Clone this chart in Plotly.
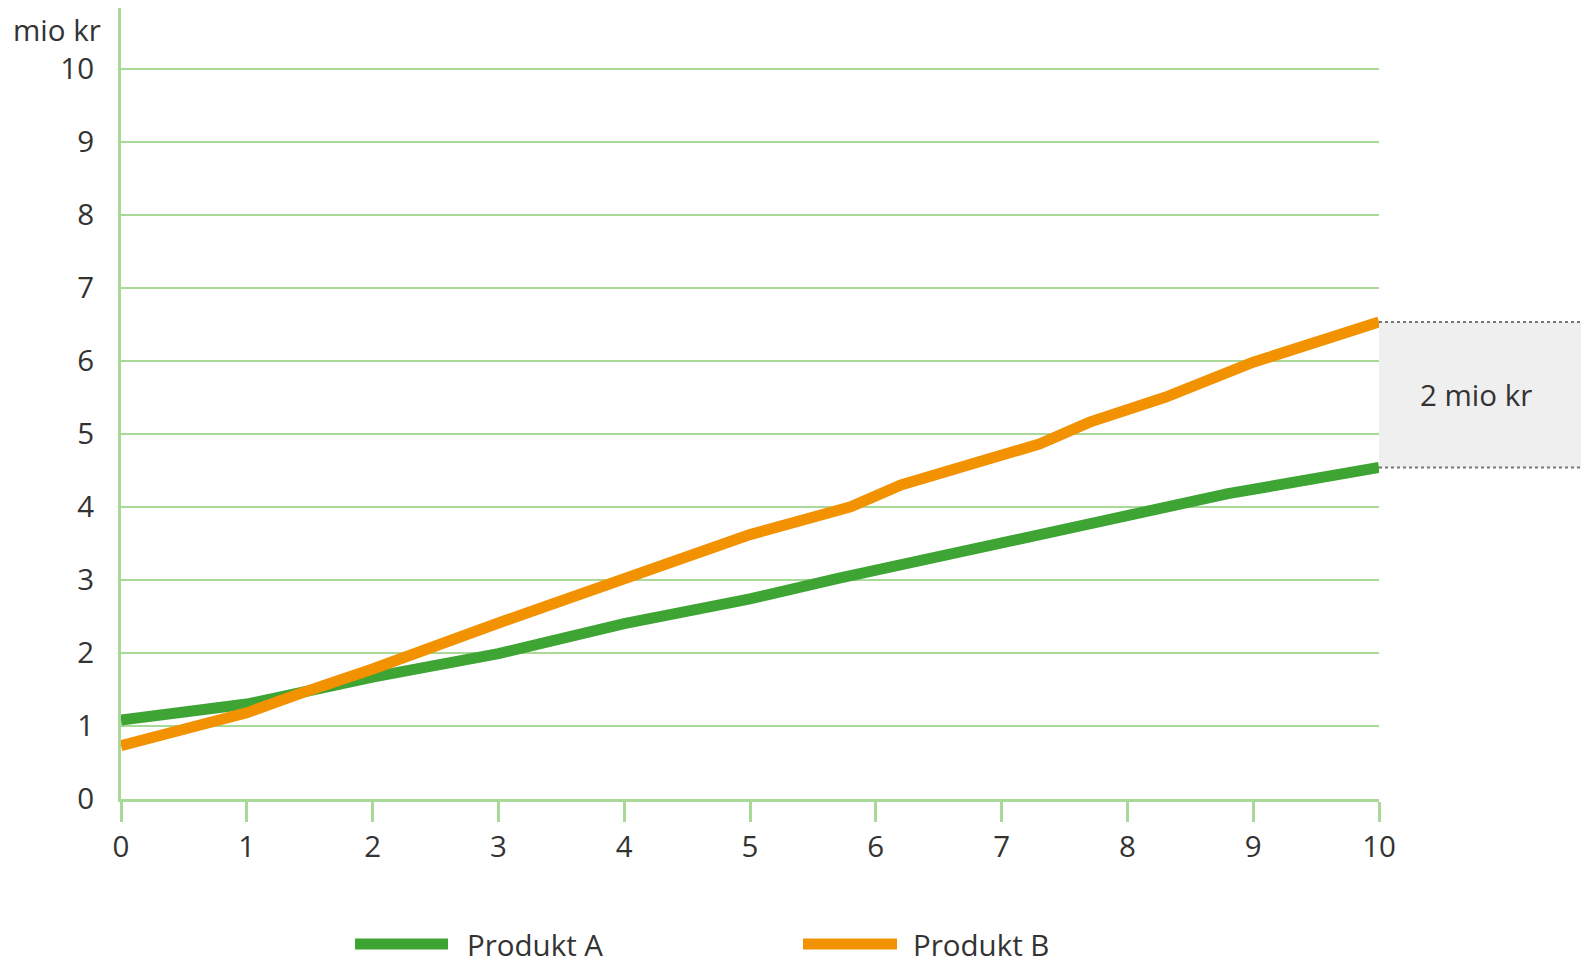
import plotly.graph_objects as go

# Data
series_names = ["Produkt A", "Produkt B"]
series_colors = ["#3ea535", "#f39200"]
x_a = [0, 1, 2, 3, 4, 5, 5.7, 7, 8.3, 8.8, 10]
y_a = [1.08, 1.30, 1.67, 1.99, 2.40, 2.74, 3.02, 3.50, 3.98, 4.18, 4.54]
x_b = [0, 1, 1.45, 2, 3, 4, 5, 5.8, 6.2, 7.3, 7.7, 8.3, 9, 10]
y_b = [0.73, 1.18, 1.46, 1.78, 2.41, 3.0, 3.62, 4.0, 4.3, 4.86, 5.16, 5.5, 5.98, 6.53]
x_ticks = list(range(0, 11))
y_ticks = list(range(0, 11))
y_unit = "mio kr"
diff_label = "2 mio kr"

# page has an 8px body margin, so the figure is 16px smaller than the window
W, H = 1573, 961
L, R, T, B = 113, 202, 0, 170
Y_MAX = 10.83
GRID = "#a9d899"
FONT = "Open Sans"
FS = 29.5
TXT = "#333333"

plot_w = W - L - R
plot_h = H - T - B

fig = go.Figure()
for xs, ys, name, col in [(x_a, y_a, series_names[0], series_colors[0]),
                          (x_b, y_b, series_names[1], series_colors[1])]:
    fig.add_trace(go.Scatter(x=xs, y=ys, mode="lines", name=name,
                             line=dict(color=col, width=11), showlegend=False))

fig.update_layout(
    width=W, height=H,
    margin=dict(l=L, r=R, t=T, b=B),
    plot_bgcolor="white", paper_bgcolor="white",
    font=dict(family=FONT, size=FS, color=TXT),
    xaxis=dict(range=[0, 10], tickvals=x_ticks, showgrid=False, zeroline=False,
               showline=True, linecolor=GRID, linewidth=3,
               ticks="outside", ticklen=20, tickwidth=3, tickcolor=GRID,
               tickfont=dict(size=FS, color=TXT), fixedrange=True),
    yaxis=dict(range=[0, Y_MAX], tickvals=y_ticks, showgrid=True, gridcolor=GRID,
               gridwidth=2, zeroline=False, showline=True, linecolor=GRID,
               linewidth=3, ticks="", ticklabelstandoff=18,
               tickfont=dict(size=FS, color=TXT), fixedrange=True),
)

# y-unit label
fig.add_annotation(text=y_unit, xref="paper", yref="paper",
                   x=(94 - L) / plot_w, y=1.0, borderpad=0,
                   xanchor="right", yanchor="top", showarrow=False,
                   font=dict(size=FS, color=TXT))

# difference box to the right of the plot
def ypaper(v):
    return v / Y_MAX
top_v, bot_v = y_b[-1], y_a[-1]
x_end = 1 + (W - (W - R)) / plot_w
fig.add_shape(type="rect", xref="paper", yref="paper", x0=1, x1=x_end,
              y0=ypaper(bot_v), y1=ypaper(top_v), fillcolor="#efefef",
              line=dict(width=0), layer="below")
for v in (top_v, bot_v):
    fig.add_shape(type="line", xref="paper", yref="paper", x0=1, x1=x_end,
                  y0=ypaper(v), y1=ypaper(v),
                  line=dict(color="#777777", width=2, dash="dot"))
fig.add_annotation(text=diff_label, xref="paper", yref="paper",
                   x=1 + 97 / plot_w, y=ypaper((top_v + bot_v) / 2),
                   xanchor="center", yanchor="middle",
                   showarrow=False, font=dict(size=FS, color=TXT))

# custom legend below the chart
leg_y = -(936 - (H - B)) / plot_h
leg_line_x = [(347, 440), (795, 889)]
leg_text_x = [458, 904]
for name, col, (lx0, lx1), tx in zip(series_names, series_colors, leg_line_x, leg_text_x):
    fig.add_shape(type="line", xref="paper", yref="paper",
                  x0=(lx0 - L) / plot_w, x1=(lx1 - L) / plot_w,
                  y0=leg_y, y1=leg_y, line=dict(color=col, width=11))
    fig.add_annotation(text=name, xref="paper", yref="paper",
                       x=(tx - L) / plot_w, y=leg_y, borderpad=0,
                       xanchor="left", yanchor="middle", showarrow=False,
                       font=dict(size=FS, color=TXT))

fig.write_html("out.html")
